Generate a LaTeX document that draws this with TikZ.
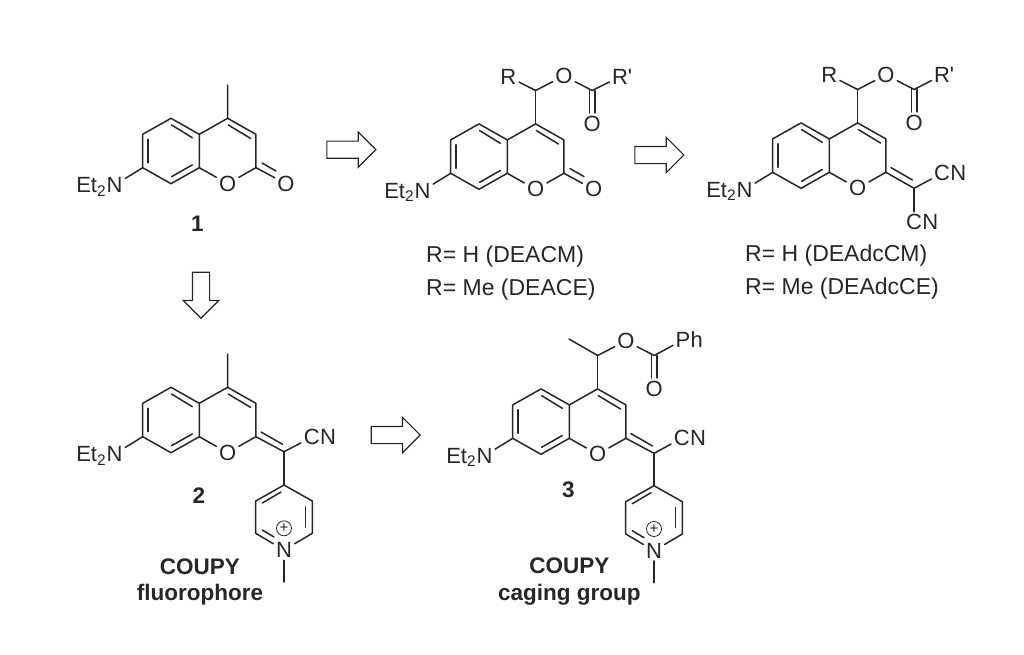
\documentclass[tikz,border=0pt]{standalone}
\usepackage{fontspec}
\setmainfont{Liberation Sans}
\usetikzlibrary{positioning,shapes.arrows}
\definecolor{inkcol}{gray}{0.15}
\tikzset{
  bond/.style={draw=inkcol,line width=1.5pt,line cap=round,line join=round},
  atom/.style={inner sep=2.5pt,text=inkcol,font=\fontsize{22}{24}\selectfont},
  atomtext/.style={inner sep=0pt,text=inkcol,font=\fontsize{22}{24}\selectfont},
  labeltext/.style={inner sep=0pt,anchor=base west,text=inkcol,font=\fontsize{23}{24}\selectfont},
  compound/.style={inner sep=0pt,text=inkcol,font=\fontsize{22.5}{24}\selectfont\bfseries},
  openarrow/.style={draw=inkcol,line width=1.2pt,single arrow,single arrow head extend=9pt,
    single arrow tip angle=90,single arrow head indent=0pt,minimum height=49pt,
    inner sep=8pt,anchor=tip},
  % chromene core with its NEt2, origin at C8a
  core/.pic={
    \coordinate (-c8a) at (0,0);
    \coordinate (-c7) at (-56.6,0);
    \coordinate (-c8) at (-28.3,16);
    \coordinate (-c6) at (-56.6,-33.4);
    \coordinate (-c5) at (-28.3,-49.4);
    \coordinate (-c4a) at (0,-33.4);
    \coordinate (-c4) at (28.3,-49.4);
    \coordinate (-c3) at (56.6,-33.4);
    \coordinate (-c2) at (56.6,0);
    \node[atom] (-o1) at (28.3,16) {O};
    \node[atom] (-n) at (-84.8,17.4) {N};
    \node[atomtext,base left=-2.5pt of -n] {Et\textsubscript{2}};
    \draw[bond] (-c8a) -- (-c8) -- (-c7) -- (-c6) -- (-c5) -- (-c4a) -- (-c8a);
    \draw[bond] (-c4a) -- (-c4) -- (-c3) -- (-c2);
    \draw[bond] (-c8a) -- (-o1) -- (-c2);
    \draw[bond] (-c7) -- (-n);
    % inner lines of the double bonds
    \draw[bond] (-51.3,-28.5) -- (-51.3,-5);
    \draw[bond] (-27.7,9) -- (-7,-2.8);
    \draw[bond] (-27.7,-42.7) -- (-7,-30);
    \draw[bond] (29,-42.7) -- (51.3,-29.3);
  },
  % N-methylpyridinium, origin at the top carbon
  pyridinium/.pic={
    \coordinate (-a) at (0,0);
    \coordinate (-b) at (28.3,16);
    \coordinate (-c) at (28.3,48.3);
    \node[atom] (-n) at (0,65) {N};
    \coordinate (-e) at (-28.3,48.3);
    \coordinate (-f) at (-28.3,16);
    \coordinate (-me) at (0,97);
    \draw[bond] (-a) -- (-b) -- (-c) -- (-n) -- (-e) -- (-f) -- (-a);
    \draw[bond] (-n) -- (-me);
    \draw[bond] (21.7,21.7) -- (21.7,42);
    \draw[bond] (-21.7,18) -- (-3,7);
    \draw[bond] (-21.7,45) -- (-10,52);
    \node[draw=inkcol,line width=0.8pt,circle,inner sep=0pt,minimum size=15pt,text=inkcol,
      font=\fontsize{15}{15}\selectfont] (-plus) at (0,43.3) {+};
  },
  % CH(R)-O-C(=O)-R' arm, origin at C4
  ester/.pic={
    \coordinate (-ch) at (0,-33.4);
    \node[atom] (-o) at (28.3,-48) {O};
    \coordinate (-co) at (56.6,-33.4);
    \node[atom] (-ox) at (56.6,0) {O};
    \draw[bond] (-ch) -- (0,0);
    \draw[bond] (-ch) -- (-o) -- (-co);
    \draw[bond] (53.8,-33.4) -- (53.8,-11);
    \draw[bond] (59.4,-33.4) -- (59.4,-11);
  },
}
\begin{document}
\begin{tikzpicture}[x=1pt,y=-1pt]
\useasboundingbox (0,0) rectangle (1024,654);
% Compound 1
\pic (m1) at (199.3,167.7) {core};
\coordinate (m1me) at (227.7,85);
\node[atom] (m1ox) at (286,183.7) {O};
\draw[bond] (m1-c4) -- (m1me);
\draw[bond] (m1-c2) -- (m1ox);
\draw[bond] (262,163) -- (276,171);
\node[compound] (m1lab) at (197.3,223.3) {1};
% Caged coumarin
\pic (m2) at (507.3,173.3) {core};
\pic (m2e) at (535.6,123.9) {ester};
\node[atom] (m2ox) at (593.6,189.3) {O};
\node[atom] (m2r) at (508.3,76.7) {R};
\node[atom] (m2rp) at (620,76.7) {R};
\node[atomtext,right=-3pt of m2rp] {\textquotesingle};
\draw[bond] (m2e-ch) -- (m2r);
\draw[bond] (m2e-co) -- (m2rp);
\draw[bond] (m2-c2) -- (m2ox);
\draw[bond] (570,168.6) -- (584,176.6);
\node[labeltext] (m2t1) at (426,262.5) {R= H (DEACM)};
\node[labeltext] (m2t2) at (426,295) {R= Me (DEACE)};
% Dicyano compound
\pic (m3) at (829.3,172.3) {core};
\pic (m3e) at (857.6,122.9) {ester};
\coordinate (m3x) at (914,188.3);
\node[atom] (m3r) at (829.3,75) {R};
\node[atom] (m3rp) at (942,75) {R};
\node[atomtext,right=-3pt of m3rp] {\textquotesingle};
\node[atom] (m3c1) at (942,173.3) {C};
\node[atomtext,base right=-2.5pt of m3c1] {N};
\node[atom] (m3c2) at (914,222.3) {C};
\node[atomtext,base right=-2.5pt of m3c2] {N};
\draw[bond] (m3e-ch) -- (m3r);
\draw[bond] (m3e-co) -- (m3rp);
\draw[bond] (m3-c2) -- (m3x);
\draw[bond] (891,167.6) -- (912.5,180);
\draw[bond] (m3x) -- (m3c1);
\draw[bond] (m3x) -- (m3c2);
\node[labeltext] (m3t1) at (745,261.5) {R= H (DEAdcCM)};
\node[labeltext] (m3t2) at (745,294) {R= Me (DEAdcCE)};
% Compound 2
\pic (m4) at (199.3,436.7) {core};
\pic (m4p) at (284,485) {pyridinium};
\coordinate (m4me) at (227.7,354);
\coordinate (m4x) at (284,451.7);
\node[atom] (m4c) at (311.7,437.3) {C};
\node[atomtext,base right=-2.5pt of m4c] {N};
\draw[bond] (m4-c4) -- (m4me);
\draw[bond] (m4-c2) -- (m4x);
\draw[bond] (261,432) -- (282.5,444.3);
\draw[bond] (m4x) -- (m4c);
\draw[bond] (m4x) -- (m4p-a);
\node[compound] (m4lab) at (199,495.7) {2};
\node[compound] (m4t1) at (200,566.7) {COUPY};
\node[compound] (m4t2) at (200,595) {fluorophore};
% Compound 3
\pic (m5) at (569.3,438.3) {core};
\pic (m5e) at (597.6,388.9) {ester};
\pic (m5p) at (654,485.7) {pyridinium};
\coordinate (m5x) at (654,453.3);
\coordinate (m5me) at (569,339);
\node[atom] (m5ph) at (683,340) {P};
\node[atomtext,base right=-2.5pt of m5ph] {h};
\node[atom] (m5c) at (681.7,438.3) {C};
\node[atomtext,base right=-2.5pt of m5c] {N};
\draw[bond] (m5e-ch) -- (m5me);
\draw[bond] (m5e-co) -- (m5ph);
\draw[bond] (m5-c2) -- (m5x);
\draw[bond] (631,433.6) -- (652.5,446);
\draw[bond] (m5x) -- (m5c);
\draw[bond] (m5x) -- (m5p-a);
\node[compound] (m5lab) at (568.3,490) {3};
\node[compound] (m5t1) at (569.3,565.5) {COUPY};
\node[compound] (m5t2) at (569.3,595) {caging group};
% Open arrows
\node[openarrow] (arr1) at (376.7,149.7) {};
\node[openarrow] (arr2) at (684.7,155) {};
\node[openarrow,rotate=-90,minimum height=46pt] (arr3) at (201,319) {};
\node[openarrow] (arr4) at (421,435) {};
\end{tikzpicture}
\end{document}
